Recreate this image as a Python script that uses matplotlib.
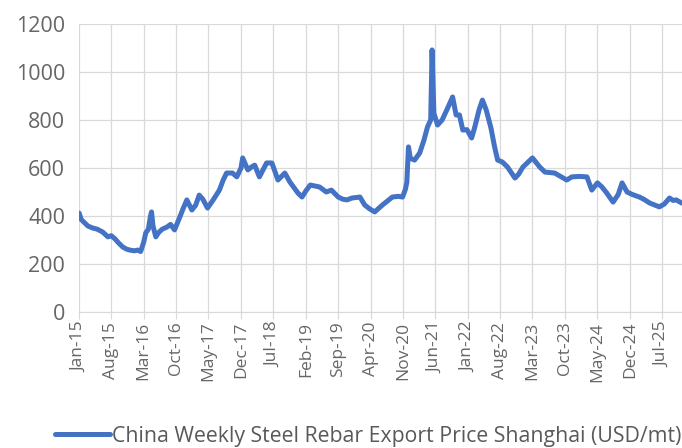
import matplotlib
matplotlib.use("Agg")
import matplotlib.pyplot as plt
import pandas as pd

dates = [
    "2015-01-02", "2015-01-16", "2015-02-10", "2015-03-01", "2015-04-01", "2015-05-01",
    "2015-06-06", "2015-07-10", "2015-08-01", "2015-08-25", "2015-09-15", "2015-10-15",
    "2015-11-10", "2015-12-01", "2016-01-01", "2016-01-22", "2016-02-10", "2016-03-01",
    "2016-03-15", "2016-04-01", "2016-04-15", "2016-04-22", "2016-05-01", "2016-05-20",
    "2016-06-06", "2016-07-01", "2016-08-01", "2016-08-25", "2016-09-20", "2016-10-25",
    "2016-11-15", "2016-12-10", "2017-01-12", "2017-02-06", "2017-03-01", "2017-03-25",
    "2017-04-25", "2017-06-01", "2017-07-12", "2017-08-06", "2017-08-28", "2017-10-06",
    "2017-11-03", "2017-12-01", "2017-12-12", "2018-01-15", "2018-02-10", "2018-03-01",
    "2018-04-01", "2018-05-18", "2018-06-22", "2018-08-01", "2018-09-15", "2018-10-18",
    "2018-12-10", "2019-01-06", "2019-02-01", "2019-03-01", "2019-04-01", "2019-05-01",
    "2019-06-15", "2019-07-18", "2019-09-01", "2019-10-01", "2019-10-28", "2019-12-01",
    "2020-01-22", "2020-02-22", "2020-03-25", "2020-04-28", "2020-06-18", "2020-08-22",
    "2020-10-01", "2020-10-28", "2020-11-15", "2020-11-25", "2020-12-06", "2020-12-18",
    "2021-01-15", "2021-02-18", "2021-03-18", "2021-04-10", "2021-05-01", "2021-05-10",
    "2021-05-22", "2021-06-15", "2021-07-15", "2021-08-15", "2021-09-22", "2021-10-15",
    "2021-11-06", "2021-11-28", "2021-12-25", "2022-01-25", "2022-02-15", "2022-03-15",
    "2022-04-06", "2022-05-01", "2022-06-01", "2022-06-25", "2022-07-15", "2022-08-15",
    "2022-09-18", "2022-11-06", "2022-12-01", "2022-12-28", "2023-02-01", "2023-03-01",
    "2023-04-18", "2023-05-22", "2023-07-25", "2023-09-01", "2023-10-12", "2023-11-15",
    "2024-01-01", "2024-02-22", "2024-03-25", "2024-05-01", "2024-06-01", "2024-07-01",
    "2024-08-12", "2024-09-15", "2024-10-10", "2024-11-12", "2024-12-15", "2025-02-01",
    "2025-03-01", "2025-04-10", "2025-06-12", "2025-07-15", "2025-08-18", "2025-09-10",
    "2025-10-01", "2025-11-06",
]
prices = [
    412, 385, 370, 358, 350, 345,
    333, 313, 318, 305, 290, 271,
    262, 258, 255, 258, 252, 290,
    330, 345, 400, 417, 360, 313,
    330, 345, 354, 365, 342, 396,
    430, 467, 425, 445, 487, 470,
    433, 467, 508, 550, 579, 579,
    563, 600, 642, 592, 605, 612,
    563, 621, 621, 550, 579, 542,
    496, 479, 505, 529, 525, 521,
    500, 508, 479, 470, 467, 475,
    479, 446, 430, 417, 446, 479,
    482, 479, 510, 540, 688, 640,
    633, 663, 717, 771, 800, 1092,
    829, 779, 800, 842, 896, 821,
    821, 758, 760, 725, 771, 842,
    883, 842, 767, 688, 633, 625,
    604, 558, 575, 604, 625, 642,
    604, 583, 579, 565, 550, 563,
    565, 563, 508, 538, 520, 496,
    458, 490, 538, 500, 490, 479,
    470, 454, 438, 450, 475, 465,
    467, 454,
]
tick_dates = ["2015-01-01", "2015-08-01", "2016-03-01", "2016-10-01", "2017-05-01",
              "2017-12-01", "2018-07-01", "2019-02-01", "2019-09-01", "2020-04-01",
              "2020-11-01", "2021-06-01", "2022-01-01", "2022-08-01", "2023-03-01",
              "2023-10-01", "2024-05-01", "2024-12-01", "2025-07-01"]
tick_labels = ["Jan-15", "Aug-15", "Mar-16", "Oct-16", "May-17", "Dec-17", "Jul-18",
               "Feb-19", "Sep-19", "Apr-20", "Nov-20", "Jun-21", "Jan-22", "Aug-22",
               "Mar-23", "Oct-23", "May-24", "Dec-24", "Jul-25"]
y_ticks = [0, 200, 400, 600, 800, 1000, 1200]
series_name = "China Weekly Steel Rebar Export Price Shanghai (USD/mt)"

plt.rcParams['font.family'] = ['Open Sans', 'DejaVu Sans']

fig = plt.figure(figsize=(6.82, 4.48), dpi=100)
ax = fig.add_axes([79/682, 1-312/448, 1-79/682, (312-24)/448])

x = pd.to_datetime(dates)
line, = ax.plot(x, prices, color="#4472C4", linewidth=3.6, solid_joinstyle="round",
                solid_capstyle="round", label=series_name)

ax.set_ylim(0, 1200)
ax.set_yticks(y_ticks)
ax.set_xlim(pd.Timestamp("2015-01-01"), pd.Timestamp("2025-11-08"))
ax.set_xticks(pd.to_datetime(tick_dates))
ax.set_xticklabels(tick_labels, rotation=90)

for s in ["top", "right", "left"]:
    ax.spines[s].set_visible(False)
ax.spines["bottom"].set_color("#d9d9d9")
ax.grid(True, color="#d9d9d9", linewidth=0.9)
ax.set_axisbelow(True)
ax.tick_params(axis="y", length=0, labelsize=15.5, labelcolor="#666666", pad=10)
ax.tick_params(axis="x", length=5, color="#d9d9d9", labelsize=12.5, labelcolor="#666666", pad=2)

fig.legend(handles=[line], loc="center", bbox_to_anchor=(368/682, 1-436/448),
           frameon=False, fontsize=15.3, handlelength=2.6, handletextpad=0.1,
           labelcolor="#595959")

fig.savefig("out.png", dpi=100)
